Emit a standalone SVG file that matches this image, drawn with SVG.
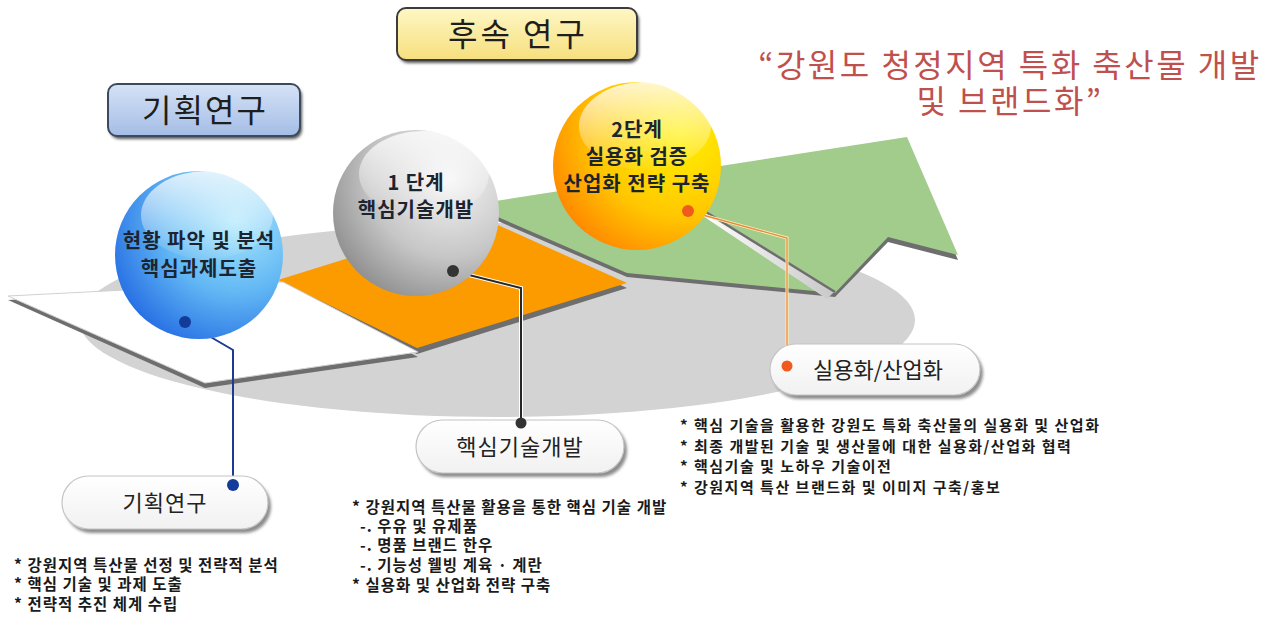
<svg xmlns="http://www.w3.org/2000/svg" width="1276" height="618" viewBox="0 0 1276 618">
  <style>
    text { font-family: "Noto Sans CJK KR", "Noto Sans", sans-serif; }
    .ttl { font-size: 32px; fill: #1e1e1e; text-anchor: middle; }
    .slogan { font-size: 32px; fill: #c0504d; text-anchor: middle; letter-spacing: 2.5px; }
    .orb { font-size: 20px; fill: #1c2430; text-anchor: middle; font-weight: bold; letter-spacing: 1px; }
    .pill-t { font-size: 22px; fill: #222; text-anchor: middle; }
    .bul { font-size: 15.5px; fill: #1a1a1a; font-weight: bold; letter-spacing: 1px; }
    .bul-r { font-size: 15px; letter-spacing: 1.5px; }
    .pill { fill: url(#pillFill); stroke: #c4c4c4; stroke-width: 1.2; }
    .pill-sh { fill: #8c8c8c; filter: url(#soft); }
    .edge { fill: #6e6e6e; }
    .gloss { fill: url(#gloss); }
  </style>
  <defs>
    <filter id="soft" x="-10%" y="-20%" width="120%" height="140%">
      <feGaussianBlur stdDeviation="1.6"/>
    </filter>
    <linearGradient id="pillFill" x1="0" y1="0" x2="0" y2="1">
      <stop offset="0" stop-color="#ffffff"/>
      <stop offset="1" stop-color="#f1f1f1"/>
    </linearGradient>
    <linearGradient id="yellowBox" x1="0" y1="0" x2="0" y2="1">
      <stop offset="0" stop-color="#fff7c4"/>
      <stop offset="1" stop-color="#f6df7e"/>
    </linearGradient>
    <linearGradient id="blueBox" x1="0" y1="0" x2="0" y2="1">
      <stop offset="0" stop-color="#d5e2f6"/>
      <stop offset="1" stop-color="#a4bde6"/>
    </linearGradient>
    <radialGradient id="blueOrb" cx="0.72" cy="0.3" r="0.85">
      <stop offset="0" stop-color="#a8e6fc"/>
      <stop offset="0.5" stop-color="#62b8f4"/>
      <stop offset="1" stop-color="#1f66e2"/>
    </radialGradient>
    <radialGradient id="grayOrb" cx="0.7" cy="0.3" r="0.85">
      <stop offset="0" stop-color="#f4f4f4"/>
      <stop offset="0.55" stop-color="#c6c6c6"/>
      <stop offset="1" stop-color="#858585"/>
    </radialGradient>
    <radialGradient id="goldOrb" cx="0.75" cy="0.3" r="0.9">
      <stop offset="0" stop-color="#fff200"/>
      <stop offset="0.55" stop-color="#ffc800"/>
      <stop offset="1" stop-color="#ff7a00"/>
    </radialGradient>
    <linearGradient id="gloss" x1="0" y1="0" x2="0" y2="1">
      <stop offset="0" stop-color="#ffffff" stop-opacity="0.8"/>
      <stop offset="1" stop-color="#ffffff" stop-opacity="0.05"/>
    </linearGradient>
    <linearGradient id="strip" x1="0" y1="0" x2="1" y2="0">
      <stop offset="0" stop-color="#ffffff"/>
      <stop offset="1" stop-color="#c8c8c8"/>
    </linearGradient>
  </defs>

  <rect width="1276" height="618" fill="#ffffff"/>

  <!-- base platform -->
  <ellipse cx="497" cy="320" rx="418" ry="97" fill="#d3d3d3"/>

  <!-- green arrow slab -->
  <g id="green-slab">
    <polygon class="edge" points="470,209 907,141 958,260 888,242 835,297 627,277"/>
    <polygon fill="#a2cc8c" points="470,205 907,137 958,255 888,237 835,293 627,273"/>
    <polygon fill="url(#strip)" points="700,214 708,212 835,291 827,299"/>
    <line x1="706" y1="212" x2="835" y2="292" stroke="#6e6e6e" stroke-width="2.5"/>
  </g>

  <!-- orange slab -->
  <g id="orange-slab">
    <polygon class="edge" points="278,285 480,222 627,288 417,354"/>
    <polygon fill="#fb9b00" points="278,280 480,217 627,283 417,348"/>
  </g>

  <!-- white slab -->
  <g id="white-slab">
    <polygon class="edge" points="8,300 283,286 418,357 205,388"/>
    <polygon fill="#ffffff" stroke="#d0d0d0" stroke-width="1" points="8,296 283,282 418,352 205,383"/>
  </g>

  <!-- heading boxes -->
  <g id="box-followup">
    <rect x="399" y="11" width="240" height="52" rx="9" fill="#555" filter="url(#soft)"/>
    <rect x="397" y="8" width="240" height="52" rx="9" fill="url(#yellowBox)" stroke="#3c3c3c" stroke-width="2"/>
    <text class="ttl" x="518" y="46" font-size="33" letter-spacing="3">후속 연구</text>
  </g>
  <g id="box-planning">
    <rect x="110" y="87" width="192" height="52" rx="9" fill="#555" filter="url(#soft)"/>
    <rect x="108" y="84" width="192" height="52" rx="9" fill="url(#blueBox)" stroke="#3c4a5e" stroke-width="2"/>
    <text class="ttl" x="205" y="122" letter-spacing="2">기획연구</text>
  </g>

  <g id="slogan">
    <text class="slogan" x="1010" y="77">“강원도 청정지역 특화 축산물 개발</text>
    <text class="slogan" x="1010" y="113">및 브랜드화”</text>
  </g>

  <!-- connectors -->
  <g id="connectors" fill="none">
    <polyline points="185,322 233,350 233,485" stroke="#1f3a93" stroke-width="2"/>
    <polyline points="453,271 521,288 521,423" stroke="#ffffff" stroke-width="4"/>
    <polyline points="453,271 521,288 521,423" stroke="#262626" stroke-width="2"/>
    <polyline points="688,211 787,238 787,366" stroke="#fff3b0" stroke-width="3"/>
    <polyline points="688,211 787,238 787,366" stroke="#e8874a" stroke-width="1.3"/>
  </g>

  <!-- stage orbs -->
  <g id="orb-planning">
    <circle cx="199" cy="255" r="84" fill="url(#blueOrb)"/>
    <ellipse class="gloss" cx="207" cy="215" rx="66" ry="44"/>
    <text class="orb" x="199" y="248">현황 파악 및 분석</text>
    <text class="orb" x="199" y="276">핵심과제도출</text>
    <circle cx="185" cy="322" r="6" fill="#123b9a"/>
  </g>
  <g id="orb-stage1">
    <circle cx="416" cy="213" r="83" fill="url(#grayOrb)"/>
    <ellipse class="gloss" cx="424" cy="174" rx="65" ry="43"/>
    <text class="orb" x="416" y="190">1 단계</text>
    <text class="orb" x="416" y="217">핵심기술개발</text>
    <circle cx="453" cy="271" r="6" fill="#333"/>
  </g>
  <g id="orb-stage2">
    <circle cx="637" cy="166" r="84" fill="url(#goldOrb)"/>
    <ellipse class="gloss" cx="645" cy="126" rx="66" ry="44"/>
    <text class="orb" x="637" y="137">2단계</text>
    <text class="orb" x="637" y="164">실용화 검증</text>
    <text class="orb" x="637" y="191">산업화 전략 구축</text>
    <circle cx="688" cy="211" r="6" fill="#f05a1e"/>
  </g>

  <!-- label pills -->
  <g id="pill-planning">
    <rect class="pill-sh" x="65" y="480" width="206" height="53" rx="26.5"/>
    <rect class="pill" x="62" y="476" width="206" height="53" rx="26.5"/>
    <text class="pill-t" x="165" y="511" letter-spacing="1">기획연구</text>
    <circle cx="233" cy="485" r="6" fill="#123b9a"/>
  </g>
  <g id="pill-core">
    <rect class="pill-sh" x="419" y="424" width="208" height="53" rx="26.5"/>
    <rect class="pill" x="416" y="420" width="208" height="53" rx="26.5"/>
    <text class="pill-t" x="520" y="455" letter-spacing="1">핵심기술개발</text>
    <circle cx="521" cy="423" r="5.5" fill="#333"/>
  </g>
  <g id="pill-commercial">
    <rect class="pill-sh" x="773" y="348" width="210" height="51" rx="25.5"/>
    <rect class="pill" x="770" y="344" width="210" height="51" rx="25.5"/>
    <text class="pill-t" x="878" y="378">실용화/산업화</text>
    <circle cx="787" cy="366" r="5.5" fill="#f05a1e"/>
  </g>

  <!-- detail notes -->
  <g id="notes-planning">
    <text class="bul" x="14" y="571">* 강원지역 특산물 선정 및 전략적 분석</text>
    <text class="bul" x="14" y="590">* 핵심 기술 및 과제 도출</text>
    <text class="bul" x="14" y="610">* 전략적 추진 체계 수립</text>
  </g>
  <g id="notes-core">
    <text class="bul" x="352" y="513">* 강원지역 특산물 활용을 통한 핵심 기술 개발</text>
    <text class="bul" x="360" y="532">-. 우유 및 유제품</text>
    <text class="bul" x="360" y="551">-. 명품 브랜드 한우</text>
    <text class="bul" x="360" y="571">-. 기능성 웰빙 계육 · 계란</text>
    <text class="bul" x="352" y="591">* 실용화 및 산업화  전략 구축</text>
  </g>
  <g id="notes-commercial">
    <text class="bul bul-r" x="680" y="431">* 핵심 기술을 활용한 강원도 특화 축산물의 실용화 및 산업화</text>
    <text class="bul bul-r" x="680" y="452">* 최종 개발된 기술 및 생산물에 대한 실용화/산업화 협력</text>
    <text class="bul bul-r" x="680" y="472">* 핵심기술 및 노하우 기술이전</text>
    <text class="bul bul-r" x="680" y="493">* 강원지역 특산 브랜드화 및 이미지 구축/홍보</text>
  </g>
</svg>
